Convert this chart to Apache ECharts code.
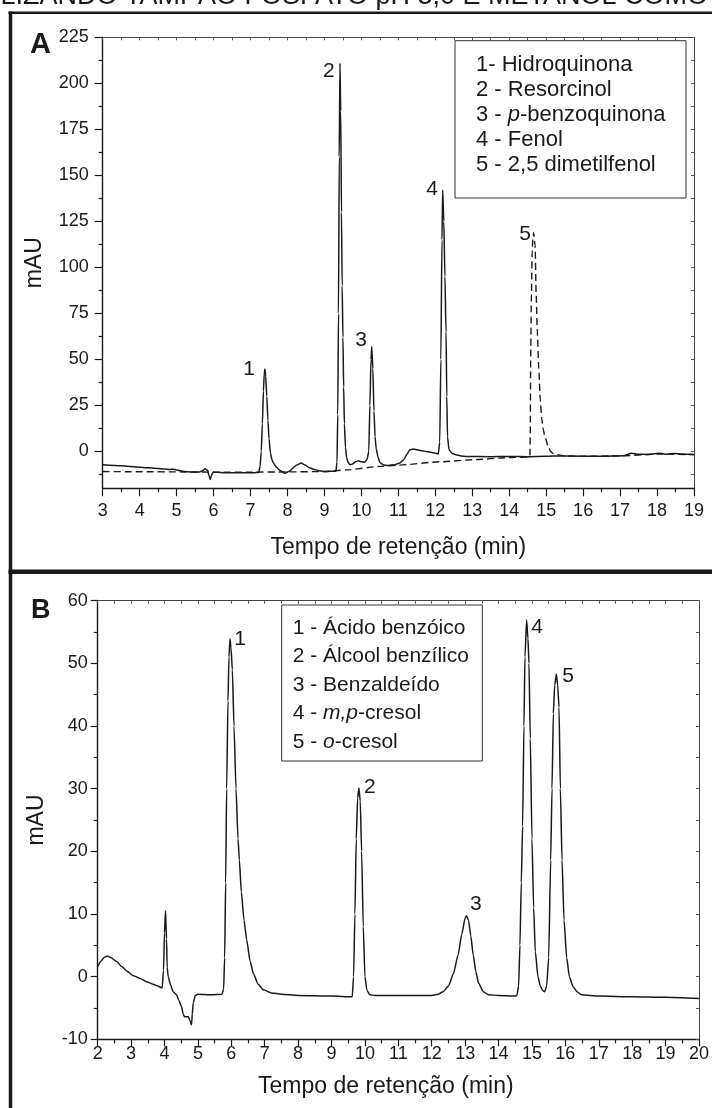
<!DOCTYPE html>
<html><head><meta charset="utf-8">
<script src="https://cdn.jsdelivr.net/npm/echarts@6/dist/echarts.min.js"></script>
<style>html,body{margin:0;padding:0;background:#fff;}#c{width:712px;height:1108px;}</style>
</head><body><div id="c"></div>
<script>
// ---------- DATA ----------
const titleText = 'UTILIZANDO TAMPÃO FOSFATO pH 3,0 E METANOL COMO';
const xNameA = 'Tempo de retenção (min)';
const xNameB = 'Tempo de retenção (min)';
const yName = 'mAU';

// Panel A: solid chromatogram (peaks 1-4)
const solidA = [[3.0,-7.2],[3.5,-7.8],[4.0,-8.5],[4.5,-9.3],[4.8,-9.8],[4.9,-9.6],[5.0,-10.0],[5.2,-10.9],[5.4,-11.2],[5.6,-11.2],[5.7,-10.5],[5.77,-9.4],[5.84,-10.2],[5.88,-13.5],[5.91,-15.2],[5.95,-12.5],[5.99,-11.3],[6.1,-11.3],[6.3,-11.5],[6.6,-11.6],[6.9,-11.6],[7.1,-11.5],[7.22,-11.4],
[7.26,-8],[7.29,0],[7.32,15],[7.35,33],[7.37,42],[7.39,44.8],[7.41,41],[7.44,30],[7.47,17],[7.5,7],[7.54,-1],[7.58,-4.5],[7.62,-6.3],[7.7,-8.6],[7.8,-10.3],[7.93,-11.8],[8.05,-10.8],[8.15,-9],[8.25,-7.4],[8.37,-6.3],[8.48,-7.4],[8.6,-8.9],[8.7,-9.6],[8.85,-10.4],[8.97,-10.9],[9.15,-10.8],[9.31,-10.7],
[9.34,-6],[9.36,20],[9.38,75],[9.40,160],[9.42,211],[9.44,185],[9.46,130],[9.48,90],[9.5,62],[9.52,35],[9.54,15],[9.57,2],[9.6,-3.5],[9.64,-6],[9.69,-7.2],[9.76,-6.8],[9.84,-5.6],[9.92,-5.1],[10.0,-5.6],[10.08,-5.9],[10.15,-4.5],[10.2,0],[10.23,25],[10.26,50],[10.28,57],[10.31,45],[10.34,22],[10.37,8],[10.4,1.5],[10.45,-3],[10.5,-6],[10.6,-7.3],[10.73,-7.6],[10.9,-7.2],[11.04,-6.3],[11.15,-4.3],[11.24,-1.2],[11.31,0.9],[11.4,1.3],[11.6,0.6],[11.8,-0.2],[12.0,-0.9],[12.08,-1.3],
[12.12,5],[12.15,50],[12.18,115],[12.2,142],[12.23,125],[12.26,95],[12.29,65],[12.31,30],[12.33,8],[12.37,1],[12.45,-0.9],[12.55,-1.8],[12.7,-2.4],[12.85,-2.7],[13.5,-2.8],[14.0,-2.7],[14.5,-2.8],[15.0,-2.6],[15.4,-2.4],[16.0,-2.6],[16.5,-2.6],[17.09,-2.3],[17.31,-0.9],[17.5,-1.5],[17.72,-1.6],[17.9,-1.4],[18.08,-0.9],[18.25,-1.5],[18.44,-1.1],[18.7,-1.3],[19.0,-1.6]];

// Panel A: dashed chromatogram (peak 5)
const dashedA = [[3.0,-10.9],[4.0,-11.0],[5.0,-11.1],[6.0,-11.2],[7.0,-11.2],[8.0,-11.1],[9.0,-10.9],[9.6,-10.0],[10.5,-8.1],[11.0,-7.4],[12.13,-5.6],[13.0,-4.5],[14.0,-3.3],[14.5,-3.0],[14.56,-2.8],[14.57,10],[14.58,50],[14.6,85],[14.62,108],[14.64,116],[14.66,118.8],[14.7,112],[14.73,85],[14.76,65],[14.8,45],[14.84,28],[14.88,18],[14.92,12],[14.97,8],[15.05,3],[15.12,0],[15.2,-1.3],[15.5,-2.4],[16.0,-2.6],[17.0,-2.4],[18.0,-1.4],[19.0,-1.7]];

// Panel B chromatogram
const chromB = [[2.0,1.6],[2.1,2.5],[2.2,3.1],[2.29,3.3],[2.4,3.0],[2.57,2.4],[2.72,1.6],[2.87,0.9],[3.05,0.2],[3.27,-0.3],[3.46,-0.8],[3.66,-1.2],[3.8,-1.5],[3.93,-1.8],[3.97,1],[4.0,7],[4.03,10.5],[4.06,6],[4.08,1.5],[4.11,0.0],[4.18,-1.3],[4.26,-2.4],[4.36,-2.9],[4.43,-3.8],[4.51,-4.8],[4.56,-6.0],[4.6,-6.4],[4.71,-6.4],[4.76,-7.0],[4.81,-7.7],[4.83,-6.0],[4.86,-4.2],[4.92,-3.0],[5.0,-2.8],[5.4,-2.9],[5.72,-2.8],
[5.77,-2],[5.8,3],[5.83,15],[5.86,30],[5.9,44],[5.93,51],[5.96,53.9],[5.99,52.5],[6.03,49],[6.08,40],[6.14,30],[6.2,22],[6.24,18.6],[6.3,13.5],[6.38,9],[6.46,5.9],[6.56,2.5],[6.66,0.5],[6.8,-1.2],[6.96,-2.1],[7.2,-2.6],[7.5,-2.8],[8.0,-3.0],[9.0,-3.1],[9.62,-3.2],
[9.66,0],[9.7,10],[9.74,22],[9.78,28.5],[9.82,30.1],[9.86,28],[9.9,20],[9.95,8],[10.0,0],[10.06,-2.2],[10.15,-2.9],[10.3,-3.0],[11.0,-3.0],[12.0,-3.0],[12.2,-2.8],[12.34,-2.4],[12.5,-1.5],[12.65,0.5],[12.79,3.5],[12.9,6.8],[13.0,9.4],[13.04,9.7],[13.1,9.0],[13.17,6.5],[13.24,3.5],[13.32,0.8],[13.4,-1.0],[13.54,-2.4],[13.7,-2.9],[14.0,-3.0],[14.5,-3.1],
[14.55,-3],[14.6,-1.5],[14.64,5],[14.68,15],[14.72,24],[14.76,40],[14.79,51],[14.84,56.9],[14.88,54],[14.91,50],[14.95,38],[15.0,22],[15.05,11],[15.1,4],[15.18,0],[15.25,-1.5],[15.32,-2.2],[15.38,-2.4],[15.44,-1.5],[15.5,3],[15.56,18.6],[15.6,30],[15.64,42],[15.68,46.5],[15.73,48.3],[15.77,46.5],[15.81,43],[15.85,30],[15.9,18.6],[15.96,9],[16.04,3],[16.12,0],[16.23,-1.6],[16.35,-2.4],[16.48,-2.9],[17.0,-3.1],[18.0,-3.2],[19.0,-3.3],[20.0,-3.5]];

// Peak number labels [x, y, text]
const peakLabelsA = [[6.96,44.9,'1'],[9.12,206.4,'2'],[9.99,60.7,'3'],[11.91,142.7,'4'],[14.43,117.8,'5']];
const peakLabelsB = [[6.26,53.8,'1'],[10.15,30.2,'2'],[13.32,11.6,'3'],[15.15,55.8,'4'],[16.08,48.0,'5']];

// Legend entries
const legendA = ['1- Hidroquinona','2 - Resorcinol','3 - {i|p}-benzoquinona','4 - Fenol','5 - 2,5 dimetilfenol'];
const legendB = ['1 - Ácido benzóico','2 - Álcool benzílico','3 - Benzaldeído','4 - {i|m,p}-cresol','5 - {i|o}-cresol'];

// Axis ticks
const yMajorA = [0,25,50,75,100,125,150,175,200,225];
const yMinorA = [-12.5,12.5,37.5,62.5,87.5,112.5,137.5,162.5,187.5,212.5];

// ---------- CHART ----------
const FONT = 'Liberation Sans, Arial, Helvetica, sans-serif';
const INK = '#1a1a1a';
const chart = echarts.init(document.getElementById('c'), null, {renderer:'canvas'});

const axLine = {show:true, onZero:false, lineStyle:{color:INK, width:1.4}};
const thinLine = {show:true, onZero:false, lineStyle:{color:'#444', width:1}};
const lblStyle = {color:INK, fontFamily:FONT, fontSize:18};
const nameStyle = {color:INK, fontFamily:FONT, fontSize:23};

function labelSeries(arr, xi, yi){
  return {type:'scatter', xAxisIndex:xi, yAxisIndex:yi, symbol:'circle', symbolSize:1, silent:true,
    itemStyle:{color:'rgba(0,0,0,0)'},
    label:{show:true, position:'inside', formatter:p=>p.data.name, color:INK, opacity:1, textBorderWidth:0, fontFamily:FONT, fontSize:21},
    emphasis:{disabled:true},
    data: arr.map(d=>({value:[d[0],d[1]], name:d[2]})), z:5};
}

function legendGroup(lines, box, x0, y0, dy, fs){
  const children = [{type:'rect', shape:{x:box[0], y:box[1], width:box[2], height:box[3]}, style:{fill:'#fff', stroke:'#333', lineWidth:1}}];
  lines.forEach((t,i)=>{
    children.push({type:'text', x:x0, y:y0+i*dy, style:{text:t, fill:INK, fontFamily:FONT, fontSize:fs, verticalAlign:'middle',
      rich:{i:{fontStyle:'italic', fontFamily:FONT, fontSize:fs, fill:INK}}}});
  });
  return {type:'group', children};
}

const option = {
  animation:false,
  backgroundColor:'#fff',
  grid:[
    {left:102.7, top:37.3, width:591.3, height:451},
    {left:97.7, top:600.7, width:601.6, height:438.6}
  ],
  xAxis:[
    {gridIndex:0, type:'value', position:'bottom', min:3, max:19, interval:1,
      axisLine:axLine, axisTick:{show:true, length:8, lineStyle:{color:INK, width:1.2}},
      minorTick:{show:true, splitNumber:2, length:4, lineStyle:{color:INK, width:1.2}},
      splitLine:{show:false}, minorSplitLine:{show:false},
      axisLabel:Object.assign({margin:14}, lblStyle),
      name:xNameA, nameLocation:'middle', nameGap:48, nameTextStyle:nameStyle},
    {gridIndex:0, type:'value', position:'top', min:3, max:19, interval:0.5,
      axisLine:thinLine, axisTick:{show:true, inside:true, length:3, lineStyle:{color:'#555'}},
      axisLabel:{show:false}, splitLine:{show:false}},
    {gridIndex:1, type:'value', position:'bottom', min:2, max:20, interval:1,
      axisLine:axLine, axisTick:{show:true, length:7, lineStyle:{color:INK, width:1.2}},
      minorTick:{show:true, splitNumber:2, length:4, lineStyle:{color:INK, width:1.2}},
      splitLine:{show:false}, minorSplitLine:{show:false},
      axisLabel:Object.assign({margin:6}, lblStyle),
      name:xNameB, nameLocation:'middle', nameGap:36, nameTextStyle:Object.assign({padding:[0,25,0,0]}, nameStyle)},
    {gridIndex:1, type:'value', position:'top', min:2, max:20, interval:0.5,
      axisLine:thinLine, axisTick:{show:true, inside:true, length:3, lineStyle:{color:'#555'}},
      axisLabel:{show:false}, splitLine:{show:false}}
  ],
  yAxis:[
    {gridIndex:0, type:'value', position:'left', min:-20, max:225,
      axisLine:axLine, axisTick:{show:true, length:8, customValues:yMajorA, lineStyle:{color:INK, width:1.2}},
      axisLabel:Object.assign({margin:14, customValues:yMajorA}, lblStyle), splitLine:{show:false},
      name:yName, nameLocation:'middle', nameGap:57, nameTextStyle:nameStyle},
    {gridIndex:0, type:'value', position:'left', min:-20, max:225,
      axisLine:{show:false, onZero:false}, axisTick:{show:true, length:4, customValues:yMinorA, lineStyle:{color:INK, width:1.2}},
      axisLabel:{show:false}, splitLine:{show:false}},
    {gridIndex:0, type:'value', position:'right', min:-20, max:225,
      axisLine:thinLine, axisTick:{show:true, inside:true, length:3, customValues:yMajorA.concat(yMinorA), lineStyle:{color:'#555'}},
      axisLabel:{show:false}, splitLine:{show:false}},
    {gridIndex:1, type:'value', position:'left', min:-10, max:60, interval:10,
      axisLine:axLine, axisTick:{show:true, length:7, lineStyle:{color:INK, width:1.2}},
      minorTick:{show:true, splitNumber:2, length:4, lineStyle:{color:INK, width:1.2}},
      axisLabel:Object.assign({margin:10}, lblStyle), splitLine:{show:false}, minorSplitLine:{show:false},
      name:yName, nameLocation:'middle', nameGap:50, nameTextStyle:nameStyle},
    {gridIndex:1, type:'value', position:'right', min:-10, max:60, interval:5,
      axisLine:thinLine, axisTick:{show:true, inside:true, length:3, lineStyle:{color:'#555'}},
      axisLabel:{show:false}, splitLine:{show:false}}
  ],
  series:[
    {type:'line', xAxisIndex:0, yAxisIndex:0, data:dashedA, showSymbol:false, smooth:0.2, smoothMonotone:'x',
      lineStyle:{color:INK, width:1.4, type:[7,4]}, silent:true, z:2},
    {type:'line', xAxisIndex:0, yAxisIndex:0, data:solidA, showSymbol:false, smooth:0.2, smoothMonotone:'x',
      lineStyle:{color:INK, width:1.5}, silent:true, z:3},
    {type:'line', xAxisIndex:2, yAxisIndex:3, data:chromB, showSymbol:false, smooth:0.2, smoothMonotone:'x',
      lineStyle:{color:INK, width:1.5}, silent:true, z:3},
    labelSeries(peakLabelsA, 0, 0),
    labelSeries(peakLabelsB, 2, 3)
  ],
  graphic:[
    {type:'text', x:708, y:-3.4, style:{text:titleText, fill:INK, fontFamily:FONT, fontSize:27, align:'right', verticalAlign:'middle'}},
    {type:'line', shape:{x1:8.5, y1:12.8, x2:712, y2:12.8}, style:{stroke:INK, lineWidth:2.5}},
    {type:'line', shape:{x1:10.5, y1:11.5, x2:10.5, y2:1108}, style:{stroke:INK, lineWidth:3.5}},
    {type:'line', shape:{x1:8.5, y1:571.7, x2:712, y2:571.7}, style:{stroke:INK, lineWidth:4.5}},
    {type:'text', x:30, y:45, style:{text:'A', fill:INK, fontFamily:FONT, fontSize:29, fontWeight:'bold', verticalAlign:'middle'}},
    {type:'text', x:31, y:610.5, style:{text:'B', fill:INK, fontFamily:FONT, fontSize:27, fontWeight:'bold', verticalAlign:'middle'}},
    legendGroup(legendA, [455,40.7,231,157.3], 476, 65, 25, 22),
    legendGroup(legendB, [281.7,605,200.6,156], 292.7, 628, 28.5, 21)
  ]
};
chart.setOption(option);
</script></body></html>
